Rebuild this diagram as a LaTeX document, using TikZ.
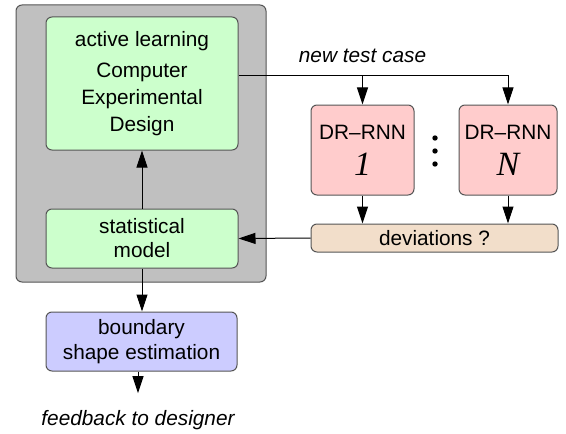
\documentclass[tikz,border=0pt]{standalone}
\usepackage{fontspec}
\setmainfont{Liberation Sans}
\newfontfamily\numfont{Liberation Serif}
\usetikzlibrary{arrows.meta}

\definecolor{framegray}{RGB}{192,192,192}
\definecolor{boxgreen}{RGB}{204,255,204}
\definecolor{boxpink}{RGB}{255,204,204}
\definecolor{boxblue}{RGB}{204,204,255}
\definecolor{boxtan}{RGB}{242,222,202}
\definecolor{edgegray}{RGB}{85,85,85}

\begin{document}
\begin{tikzpicture}[x=0.5pt,y=-0.5pt,
    font=\fontsize{10.4}{12}\selectfont,
    >={Triangle[length=8.5pt,width=5.5pt]},
    line width=0.5pt,
    box/.style={draw=edgegray,rounded corners=3pt,align=center,inner sep=0pt},
    lbl/.style={font=\fontsize{10.4}{12}\selectfont\itshape}]
\useasboundingbox (0,0) rectangle (566,433);

% grey frame around the design loop
\node[box,fill=framegray,minimum width=125pt,minimum height=138.5pt] (frame) at (141,143.5) {};

\node[box,fill=boxgreen,minimum width=96pt,minimum height=66.5pt] (design) at (142,83.5)
    {active learning\\[3.5pt]Computer\\[1.5pt]Experimental\\[1.5pt]Design};
\node[box,fill=boxgreen,minimum width=96pt,minimum height=29.5pt] (stat) at (142,238.5)
    {statistical\\model};

% the networks
\node[box,fill=boxpink,minimum width=51.5pt,minimum height=45pt] (dr1) at (362.5,150)
    {DR--RNN\\[6pt]{\fontsize{17}{17}\selectfont\numfont\itshape 1}};
\node[box,fill=boxpink,minimum width=49pt,minimum height=45pt] (drN) at (508,150)
    {DR--RNN\\[6pt]{\fontsize{17}{17}\selectfont\numfont\itshape N}};
\foreach \y in {138,151,164}
    \fill (435,\y) circle (1.35pt);

\node[box,fill=boxtan,minimum width=123.5pt,minimum height=14pt] (dev) at (434.5,238)
    {deviations ?};

\node[box,fill=boxblue,minimum width=95.5pt,minimum height=29.5pt] (shape) at (141.5,341.5)
    {boundary\\[0.5pt]shape estimation};
\node[lbl] (feed) at (138,420) {feedback to designer};

% connectors
\draw[->] ([yshift=3.75pt]design.east) coordinate (out) -| (drN.north);
\draw[->] (out -| dr1.north) -- (dr1.north)
    node[pos=0,above=3pt,lbl] (newcase) {new test case};
\draw[->] (dr1.south) -- (dev.north -| dr1.south);
\draw[->] (drN.south) -- (dev.north -| drN.south);
\draw[->] (dev.west) -- (stat.east);
\draw[->] (stat.north) -- (design.south);
\draw[->] (stat.south) -- (shape.north -| stat.south);
\draw[->] (shape.south -| feed.north) -- ([yshift=5pt]feed.north);
\end{tikzpicture}
\end{document}
